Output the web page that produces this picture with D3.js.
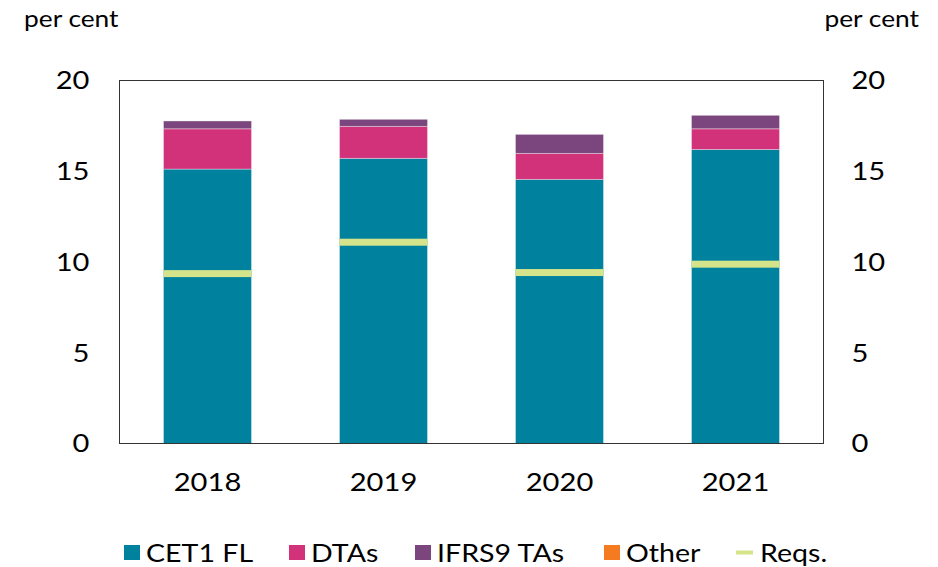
<!DOCTYPE html>
<html>
<head>
<meta charset="utf-8">
<script src="https://cdn.jsdelivr.net/npm/d3@7"></script>
<style>
  body { margin: 0; background: #fff; }
  svg text { font-family: Lato, "Open Sans", sans-serif; fill: #000; }
</style>
</head>
<body>
<div id="chart"></div>
<script>
// chart data
var years = [ "2018", "2019", "2020", "2021" ];
var cet1 = [ 15.12, 15.71, 14.55, 16.20 ];
var dtas = [ 2.22, 1.76, 1.43, 1.14 ];
var ifrs9 = [ 0.43, 0.39, 1.05, 0.74 ];
var other = [ 0, 0, 0, 0 ];
var reqs = [ 9.36, 11.09, 9.42, 9.88 ];
var yTicks = [ 0, 5, 10, 15, 20 ];

var seriesNames = [ "CET1 FL", "DTAs", "IFRS9 TAs", "Other" ];
var seriesColors = [ "#00829f", "#d1327a", "#7b467e", "#f47b20" ];
var reqsColor = "#d5e38a";

var width = 938, height = 567;
var plot = { left: 119.5, right: 823.5, top: 80.5, bottom: 443.5 };
var stretch = 1.12; // the original type is set a bit wide

var svg = d3.select( "#chart" ).append( "svg" )
  .attr( "width", width ).attr( "height", height );

var x = d3.scaleBand().domain( years )
  .range( [ plot.left, plot.right ] ).paddingInner( 0.5 ).paddingOuter( 0.25 );
var y = d3.scaleLinear().domain( [ 0, 20 ] ).range( [ plot.bottom, plot.top ] );

var rows = years.map( function( yr, i ) {
  return { year: yr, s0: cet1[ i ], s1: dtas[ i ], s2: ifrs9[ i ], s3: other[ i ] };
} );
var stack = d3.stack().keys( [ "s0", "s1", "s2", "s3" ] )( rows );

svg.append( "g" ).selectAll( "g" ).data( stack ).join( "g" )
  .attr( "fill", function( d, i ) { return seriesColors[ i ]; } )
  .selectAll( "rect" ).data( function( d ) { return d; } ).join( "rect" )
  .attr( "x", function( d ) { return x( d.data.year ); } )
  .attr( "width", x.bandwidth() )
  .attr( "y", function( d ) { return y( d[ 1 ] ); } )
  .attr( "height", function( d ) { return y( d[ 0 ] ) - y( d[ 1 ] ); } )
  .attr( "stroke", "rgba(255,255,255,0.35)" )
  .attr( "stroke-width", 1 );

// requirement markers
svg.append( "g" ).selectAll( "rect" ).data( reqs ).join( "rect" )
  .attr( "x", function( d, i ) { return x( years[ i ] ); } )
  .attr( "width", x.bandwidth() )
  .attr( "y", function( d ) { return y( d ) - 3.5; } )
  .attr( "height", 7 )
  .attr( "fill", reqsColor );

// frame
svg.append( "rect" )
  .attr( "x", plot.left ).attr( "y", plot.top )
  .attr( "width", plot.right - plot.left ).attr( "height", plot.bottom - plot.top )
  .attr( "fill", "none" ).attr( "stroke", "#333" ).attr( "stroke-width", 1 );

// axes
var leftAxis = d3.axisLeft( y ).tickValues( yTicks ).tickSize( 0 ).tickPadding( 30 );
var rightAxis = d3.axisRight( y ).tickValues( yTicks ).tickSize( 0 ).tickPadding( 28 );
var bottomAxis = d3.axisBottom( x ).tickSize( 0 ).tickPadding( 29 );

function styleAxis( g, size ) {
  g.select( ".domain" ).remove();
  g.selectAll( "text" )
    .style( "font-size", size + "px" )
    .attr( "font-family", "Lato, sans-serif" )
    .attr( "fill", "#000" )
    .attr( "x", function() { return +d3.select( this ).attr( "x" ) / stretch; } )
    .attr( "transform", "scale(" + stretch + ",1)" );
}

svg.append( "g" ).attr( "transform", "translate(" + plot.left + ",0)" )
  .call( leftAxis ).call( styleAxis, 26 );
svg.append( "g" ).attr( "transform", "translate(" + plot.right + ",0)" )
  .call( rightAxis ).call( styleAxis, 26 );
svg.append( "g" ).attr( "transform", "translate(0," + plot.bottom + ")" )
  .call( bottomAxis ).call( styleAxis, 26 );

// unit labels
function wideText( px, py, size, str, anchor ) {
  return svg.append( "text" )
    .attr( "transform", "translate(" + px + "," + py + ") scale(" + stretch + ",1)" )
    .attr( "text-anchor", anchor || "start" )
    .style( "font-size", size + "px" )
    .text( str );
}
wideText( 24, 27, 23.5, "per cent" );
wideText( 919, 27, 23.5, "per cent", "end" );

// legend
var legendItems = [
  { name: seriesNames[ 0 ], color: seriesColors[ 0 ], x: 124 },
  { name: seriesNames[ 1 ], color: seriesColors[ 1 ], x: 289 },
  { name: seriesNames[ 2 ], color: seriesColors[ 2 ], x: 415 },
  { name: seriesNames[ 3 ], color: seriesColors[ 3 ], x: 604 },
  { name: "Reqs.", color: reqsColor, x: 736, line: true }
];
var legend = svg.append( "g" ).selectAll( "g" ).data( legendItems ).join( "g" )
  .attr( "transform", function( d ) { return "translate(" + d.x + ",0)"; } );
legend.append( "rect" )
  .attr( "x", 0 )
  .attr( "y", function( d ) { return d.line ? 550.5 : 545; } )
  .attr( "width", function( d ) { return d.line ? 17 : 16; } )
  .attr( "height", function( d ) { return d.line ? 4 : 15; } )
  .attr( "fill", function( d ) { return d.color; } );
legend.append( "text" )
  .attr( "transform", function( d ) {
    return "translate(" + ( d.line ? 24 : 22 ) + ",562) scale(" + stretch + ",1)";
  } )
  .style( "font-size", "25.5px" )
  .text( function( d ) { return d.name; } );
</script>
</body>
</html>
